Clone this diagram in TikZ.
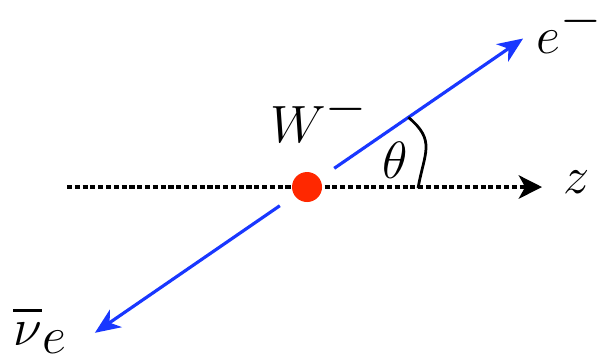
\documentclass[tikz,border=0pt]{standalone}
\usetikzlibrary{arrows.meta}
\definecolor{leptonblue}{RGB}{25,55,255}
\definecolor{vtxred}{RGB}{255,40,0}
\newcommand{\barnu}{\vbox{\hrule height 1.4pt\kern 5pt\hbox{$\nu$}}}

\begin{document}
\begin{tikzpicture}[
 lepton/.style={-{Stealth[length=12pt,width=10pt,inset=3.5pt]}, line width=1.5pt, leptonblue, shorten <=0.55cm},
 axis/.style={-{Stealth[length=11pt,width=11pt,inset=3pt]}, line width=2.3pt, dash pattern=on 2.4pt off 1.3pt},
 vtx/.style={circle, fill=vtxred, minimum size=0.5cm, inner sep=0pt},
 lbl/.style={font=\fontsize{34}{36}\selectfont, inner sep=0pt},
 angarc/.style={line width=1.3pt},
]
\useasboundingbox (-5.117,-2.9) rectangle (4.883,3.117);

% beam axis, vertex and decay products
\coordinate (zstart) at (-4,0);
\coordinate (zend) at (3.917,0);
\draw[axis] (zstart) -- (zend);
\node[vtx] (w) at (0,0) {};
\coordinate (etip) at (34.5:4.37);
\coordinate (nutip) at (214.5:4.29);
\draw[lepton] (w.center) -- (etip);
\draw[lepton] (w.center) -- (nutip);

% angle
\coordinate (arctop) at (34.5:2.05);
\coordinate (arcbot) at (1.85,-0.02);
\draw[angarc] (arctop) to[out=-40,in=80,looseness=1.3] (arcbot);

% labels
\node[lbl, font=\fontsize{38}{40}\selectfont, anchor=base west] (ename) at (3.82,2.22) {$e^{-}$};
\node[lbl, anchor=base west] (wname) at (-0.62,0.75) {$W^{-}$};
\node[lbl, font=\fontsize{26}{28}\selectfont] (thname) at (1.467,0.45) {$\theta$};
\node[lbl, font=\fontsize{28}{30}\selectfont, anchor=base west] (zname) at (4.267,-0.1) {$z$};
\node[lbl, font=\fontsize{37}{40}\selectfont, anchor=base west] (nuname) at (-4.9,-2.64) {$\barnu_{e}$};
\end{tikzpicture}
\end{document}
